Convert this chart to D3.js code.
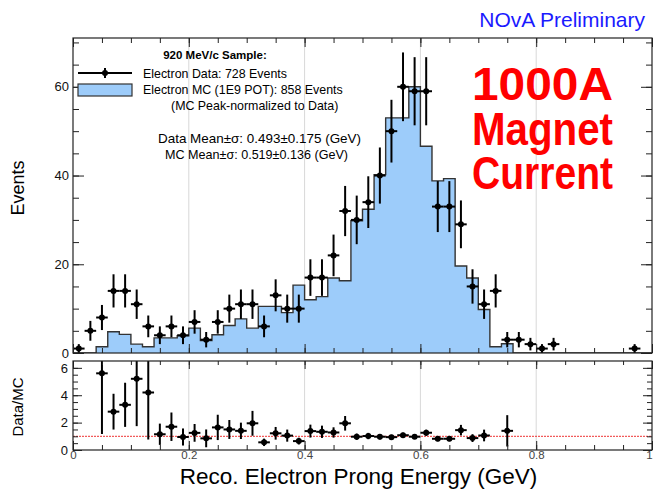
<!DOCTYPE html>
<html>
<head>
<meta charset="utf-8">
<script src="https://cdn.jsdelivr.net/npm/d3@7"></script>
<style>
  body { margin: 0; background: #fff; }
  svg { display: block; font-family: "Liberation Sans", Arial, sans-serif; }
</style>
</head>
<body>
<div id="chart"></div>
<script>
const width = 654;
const height = 489;

// 50 bins of 0.02 GeV between 0 and 1
const nBins = 50;
const binWidth = 0.02;

// electron data counts per bin
const dataCounts = [1, 5, 8, 14, 14, 11, 6, 4, 6, 4, 7, 3, 7, 10, 11, 11, 6, 13, 10, 10,
  17, 17, 22, 32, 30, 34, 40, 50, 60, 59, 59, 33, 33, 29, 15, 11, 14, 3, 3, 2,
  1, 2, 0, 0, 0, 0, 0, 0, 1, 0];

// electron MC, peak-normalized to data
const mcValues = [0, 0, 1.4, 4.8, 4.2, 2.0, 1.4, 3.4, 3.4, 3.9, 5.6, 2.8, 4.1, 6.2, 7.7, 5.6, 10.5, 10.5, 9.1, 15.3,
  12.0, 12.7, 16.9, 16.3, 29.8, 32.4, 40.2, 53.0, 53.0, 60.0, 46.6, 38.8, 39.3, 19.6, 16.9, 9.8, 1.4, 2.1, 0, 0,
  0, 0, 0, 0, 0, 0, 0, 0, 0, 0];
const mcRawEvents = 858;

// data / MC ratio per bin (null where not drawn)
const ratioValues = [null, null, 5.6, 2.8, 3.3, 5.2, 4.2, 1.15, 1.7, 0.95, 1.25, 0.85, 1.65, 1.5, 1.4, 1.95, 0.56, 1.22, 1.05, 0.65,
  1.38, 1.33, 1.28, 1.95, 0.97, 1.02, 0.97, 0.94, 1.08, 0.97, 1.26, 0.82, 0.82, 1.45, 0.87, 1.06, null, 1.4, null, null,
  null, null, null, null, null, null, null, null, null, null];

const topYTicks = [0, 20, 40, 60];
const ratioYTicks = [0, 2, 4, 6];
const xTicks = [0, 0.2, 0.4, 0.6, 0.8, 1];

const legendLines = [
  'Electron Data: 728 Events',
  'Electron MC (1E9 POT): 858 Events',
  '(MC Peak-normalized to Data)'
];
const statLines = [
  'Data Mean\u00b1\u03c3: 0.493\u00b10.175 (GeV)',
  'MC Mean\u00b1\u03c3: 0.519\u00b10.136 (GeV)'
];
const bigLabel = ['1000A', 'Magnet', 'Current'];

const bins = d3.range(nBins).map(i => ({
  lo: i * binWidth,
  hi: (i + 1) * binWidth,
  mid: (i + 0.5) * binWidth,
  data: dataCounts[i],
  mc: mcValues[i],
  ratio: ratioValues[i]
}));
const mcScale = d3.sum(mcValues) / mcRawEvents;

// panel geometry
const left = 73, right = 652;
const top1 = 38, bottom1 = 353;
const top2 = 361, bottom2 = 450;

const x = d3.scaleLinear().domain([0, 1]).range([left, right]);
const yTop = d3.scaleLinear().domain([0, 71]).range([bottom1, top1]);
const yRat = d3.scaleLinear().domain([0, 6.5]).range([bottom2, top2]);

const svg = d3.select('#chart')
  .append('svg')
  .attr('width', width)
  .attr('height', height);

svg.append('rect').attr('width', width).attr('height', height).attr('fill', '#fff');

const defs = svg.append('defs');
defs.append('clipPath').attr('id', 'clip1')
  .append('rect').attr('x', left).attr('y', top1).attr('width', right - left).attr('height', bottom1 - top1);
defs.append('clipPath').attr('id', 'clip2')
  .append('rect').attr('x', left).attr('y', top2).attr('width', right - left).attr('height', bottom2 - top2);

// vertical grid lines
[[top1, bottom1], [top2, bottom2]].forEach(([t, b]) => {
  svg.append('g')
    .selectAll('line')
    .data([0.2, 0.4, 0.6, 0.8])
    .join('line')
    .attr('x1', d => x(d)).attr('x2', d => x(d))
    .attr('y1', t).attr('y2', b)
    .attr('stroke', '#d8d8d8')
    .attr('stroke-width', 1);
});

// MC histogram as a step area
const stepPts = [];
bins.forEach(b => { stepPts.push([b.lo, b.mc]); stepPts.push([b.hi, b.mc]); });

svg.append('path')
  .datum(stepPts)
  .attr('clip-path', 'url(#clip1)')
  .attr('fill', '#9dccfa')
  .attr('d', d3.area().x(d => x(d[0])).y0(yTop(0)).y1(d => yTop(d[1])));

svg.append('path')
  .datum(stepPts)
  .attr('clip-path', 'url(#clip1)')
  .attr('fill', 'none')
  .attr('stroke', '#333')
  .attr('stroke-width', 1.4)
  .attr('d', d3.line().x(d => x(d[0])).y(d => yTop(d[1])));

// data points with Poisson errors
const dataBins = bins.filter(b => b.data > 0);
const pts = svg.append('g').attr('clip-path', 'url(#clip1)');
pts.selectAll('line.ex')
  .data(dataBins)
  .join('line')
  .attr('class', 'ex')
  .attr('x1', d => x(d.lo)).attr('x2', d => x(d.hi))
  .attr('y1', d => yTop(d.data)).attr('y2', d => yTop(d.data))
  .attr('stroke', '#000').attr('stroke-width', 2);
pts.selectAll('line.ey')
  .data(dataBins)
  .join('line')
  .attr('class', 'ey')
  .attr('x1', d => x(d.mid)).attr('x2', d => x(d.mid))
  .attr('y1', d => yTop(d.data - Math.sqrt(d.data))).attr('y2', d => yTop(d.data + Math.sqrt(d.data)))
  .attr('stroke', '#000').attr('stroke-width', 2);
pts.selectAll('circle')
  .data(dataBins)
  .join('circle')
  .attr('cx', d => x(d.mid))
  .attr('cy', d => yTop(d.data))
  .attr('r', 3)
  .attr('fill', '#000');

// ratio panel
svg.append('line')
  .attr('x1', x(0)).attr('x2', x(1))
  .attr('y1', yRat(1)).attr('y2', yRat(1))
  .attr('stroke', '#ee3333')
  .attr('stroke-width', 1)
  .attr('stroke-dasharray', '2,1');

const ratBins = bins.filter(b => b.ratio !== null);
const ratErr = d => d.ratio * Math.sqrt(1 / d.data + mcScale / d.mc);
const rg = svg.append('g').attr('clip-path', 'url(#clip2)');
rg.selectAll('line.ex')
  .data(ratBins)
  .join('line')
  .attr('class', 'ex')
  .attr('x1', d => x(d.lo)).attr('x2', d => x(d.hi))
  .attr('y1', d => yRat(d.ratio)).attr('y2', d => yRat(d.ratio))
  .attr('stroke', '#000').attr('stroke-width', 2);
rg.selectAll('line.ey')
  .data(ratBins)
  .join('line')
  .attr('class', 'ey')
  .attr('x1', d => x(d.mid)).attr('x2', d => x(d.mid))
  .attr('y1', d => yRat(d.ratio - ratErr(d))).attr('y2', d => yRat(d.ratio + ratErr(d)))
  .attr('stroke', '#000').attr('stroke-width', 2);
rg.selectAll('circle')
  .data(ratBins)
  .join('circle')
  .attr('cx', d => x(d.mid))
  .attr('cy', d => yRat(d.ratio))
  .attr('r', 3)
  .attr('fill', '#000');

// axes: ROOT style inward ticks on all four sides
function addAxis(axis, tx, ty, fontSize) {
  const g = svg.append('g')
    .attr('transform', `translate(${tx},${ty})`)
    .attr('color', '#222')
    .call(axis);
  g.select('.domain').remove();
  g.selectAll('text').attr('font-size', fontSize).attr('font-family', '"Liberation Sans", Arial, sans-serif').attr('fill', '#111');
  return g;
}

const xMinor = d3.range(0, 1.0001, 0.05);
const fmt = d3.format('~g');

// upper panel
addAxis(d3.axisLeft(yTop).tickValues(topYTicks).tickSize(-11).tickPadding(4).tickFormat(fmt), left, 0, 13);
addAxis(d3.axisLeft(yTop).tickValues(d3.range(0, 71, 5)).tickSize(-6).tickFormat(''), left, 0, 0);
addAxis(d3.axisRight(yTop).tickValues(topYTicks).tickSize(-11).tickFormat(''), right, 0, 0);
addAxis(d3.axisRight(yTop).tickValues(d3.range(0, 71, 5)).tickSize(-6).tickFormat(''), right, 0, 0);
addAxis(d3.axisBottom(x).tickValues(xTicks).tickSize(-9).tickFormat(''), 0, bottom1, 0);
addAxis(d3.axisBottom(x).tickValues(xMinor).tickSize(-5).tickFormat(''), 0, bottom1, 0);
addAxis(d3.axisTop(x).tickValues(xTicks).tickSize(-9).tickFormat(''), 0, top1, 0);
addAxis(d3.axisTop(x).tickValues(xMinor).tickSize(-5).tickFormat(''), 0, top1, 0);

// lower panel
addAxis(d3.axisLeft(yRat).tickValues(ratioYTicks).tickSize(-9).tickPadding(5).tickFormat(fmt), left, 0, 13);
addAxis(d3.axisLeft(yRat).tickValues(d3.range(0, 6.5, 0.5)).tickSize(-5).tickFormat(''), left, 0, 0);
addAxis(d3.axisRight(yRat).tickValues(ratioYTicks).tickSize(-9).tickFormat(''), right, 0, 0);
addAxis(d3.axisRight(yRat).tickValues(d3.range(0, 6.5, 0.5)).tickSize(-5).tickFormat(''), right, 0, 0);
const xb = addAxis(d3.axisBottom(x).tickValues(xTicks).tickSize(-9).tickPadding(1).tickFormat(fmt), 0, bottom2, 11.5);
xb.selectAll('text').attr('fill', '#444').attr('dx', d => d === 1 ? -3 : 0);
addAxis(d3.axisBottom(x).tickValues(xMinor).tickSize(-5).tickFormat(''), 0, bottom2, 0);
addAxis(d3.axisTop(x).tickValues(xTicks).tickSize(-8).tickFormat(''), 0, top2, 0);
addAxis(d3.axisTop(x).tickValues(xMinor).tickSize(-4).tickFormat(''), 0, top2, 0);

// frames
[[top1, bottom1], [top2, bottom2]].forEach(([t, b]) => {
  svg.append('rect')
    .attr('x', left).attr('y', t)
    .attr('width', right - left).attr('height', b - t)
    .attr('fill', 'none')
    .attr('stroke', '#222')
    .attr('stroke-width', 1.2);
});

// axis titles
svg.append('text')
  .attr('x', (left + right) / 2 - 4)
  .attr('y', 484)
  .attr('text-anchor', 'middle')
  .attr('font-size', 22.5)
  .text('Reco. Electron Prong Energy (GeV)');

svg.append('text')
  .attr('transform', `translate(24,188) rotate(-90)`)
  .attr('text-anchor', 'middle')
  .attr('font-size', 18)
  .text('Events');

svg.append('text')
  .attr('transform', `translate(23,407) rotate(-90)`)
  .attr('text-anchor', 'middle')
  .attr('font-size', 15)
  .text('Data/MC');

// NOvA label
svg.append('text')
  .attr('x', 645)
  .attr('y', 27)
  .attr('text-anchor', 'end')
  .attr('font-size', 21)
  .attr('fill', '#1a1aff')
  .text('NOvA Preliminary');

// legend
svg.append('text')
  .attr('x', 215).attr('y', 59)
  .attr('text-anchor', 'middle')
  .attr('font-size', 11.5)
  .attr('font-weight', 'bold')
  .text('920 MeV/c Sample:');

svg.append('line')
  .attr('x1', 78).attr('x2', 132).attr('y1', 73).attr('y2', 73)
  .attr('stroke', '#000').attr('stroke-width', 2);
svg.append('line')
  .attr('x1', 105).attr('x2', 105).attr('y1', 68).attr('y2', 78)
  .attr('stroke', '#000').attr('stroke-width', 2);
svg.append('circle').attr('cx', 105).attr('cy', 73).attr('r', 3).attr('fill', '#000');
svg.append('rect')
  .attr('x', 78).attr('y', 84).attr('width', 54).attr('height', 12)
  .attr('fill', '#9dccfa').attr('stroke', '#333').attr('stroke-width', 1.2);

svg.append('g')
  .selectAll('text')
  .data(legendLines)
  .join('text')
  .attr('x', (d, i) => i === 2 ? 171 : 143)
  .attr('y', (d, i) => 77.5 + i * 16.3)
  .attr('font-size', 12.4)
  .text(d => d);

svg.append('g')
  .selectAll('text')
  .data(statLines)
  .join('text')
  .attr('x', (d, i) => i === 0 ? 158 : 165)
  .attr('y', (d, i) => 142.5 + i * 16.7)
  .attr('font-size', 12.4)
  .attr('textLength', (d, i) => i === 0 ? 203 : 183)
  .attr('lengthAdjust', 'spacingAndGlyphs')
  .text(d => d);

// big red annotation
svg.append('g')
  .selectAll('text')
  .data(bigLabel)
  .join('text')
  .attr('x', 472)
  .attr('y', (d, i) => 100 + i * 44.5)
  .attr('font-size', 46)
  .attr('font-weight', 'bold')
  .attr('fill', '#ff0000')
  .attr('textLength', 141)
  .attr('lengthAdjust', 'spacingAndGlyphs')
  .text(d => d);
</script>
</body>
</html>
